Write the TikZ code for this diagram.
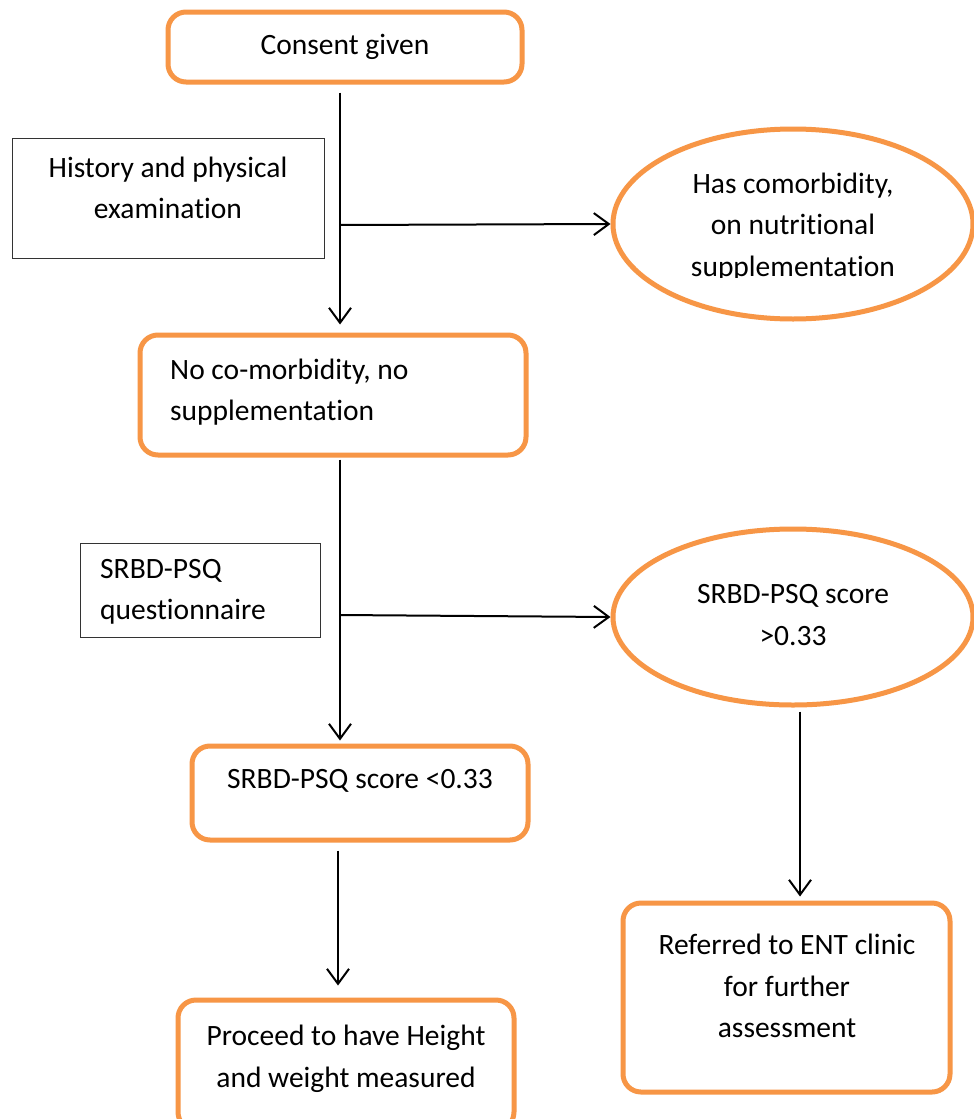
\documentclass[tikz,border=0pt]{standalone}
\usepackage{fontspec}
\setmainfont{Carlito}[Ligatures={NoCommon}]
\usetikzlibrary{shapes.geometric,arrows.meta,calc}
\definecolor{boxorange}{HTML}{F79646}
\begin{document}
\begin{tikzpicture}[x=1pt,y=-1pt,
  rbox/.style={draw=boxorange,line width=5pt,rounded corners=18pt,rectangle,inner sep=0pt},
  pbox/.style={draw=black!80,line width=1pt,rectangle,inner sep=0pt},
  obox/.style={draw=boxorange,line width=5pt,ellipse,inner sep=0pt},
  txt/.style={font=\fontsize{29.5}{41.5}\selectfont,align=center,inner sep=0pt},
  ltxt/.style={txt,align=left,anchor=west},
  arr/.style={draw=black,line width=2pt,-{Straight Barb[length=15pt,width=22pt,line width=2pt]}}]
\useasboundingbox (0,0) rectangle (974,1119);
\fill[white] (0,0) rectangle (974,1119);
% boxes
\node[rbox,minimum width=354pt,minimum height=70pt] (consent) at (345,47) {};
\node[txt] (tconsent) at (345,47) {Consent given};
\node[pbox,minimum width=312pt,minimum height=120pt] (hist) at (168,198) {};
\node[txt] (thist) at (168,188) {History and physical\\examination};
\node[obox,minimum width=360pt,minimum height=190pt] (e1) at (793,224) {};
\begin{scope}
\clip (600,120) rectangle (974,277);
\node[txt] (te1) at (793,227) {Has comorbidity,\\on nutritional\\supplementation};
\end{scope}
\node[rbox,minimum width=386pt,minimum height=120pt] (nocom) at (333,395) {};
\node[ltxt] (tnocom) at (170,392) {No co-morbidity, no\\supplementation};
\node[pbox,minimum width=240pt,minimum height=94pt] (quest) at (200,590) {};
\node[ltxt] (tquest) at (100,592) {SRBD-PSQ\\questionnaire};
\node[obox,minimum width=360pt,minimum height=176pt] (e2) at (793,617) {};
\node[txt] (te2) at (793,615) {SRBD-PSQ score\\>0.33};
\node[rbox,minimum width=336pt,minimum height=94pt] (low) at (360,793) {};
\node[txt] (tlow) at (360,781) {SRBD-PSQ score <0.33};
\node[rbox,minimum width=336pt,minimum height=130pt] (proc) at (346,1065) {};
\node[txt] (tproc) at (346,1059) {Proceed to have Height\\and weight measured};
\node[rbox,minimum width=327pt,minimum height=189pt] (ent) at (786.5,997.5) {};
\node[txt] (tent) at (787,986) {Referred to ENT clinic\\for further\\assessment};
% connectors
\coordinate (j1) at (340,225);
\coordinate (j2) at (340,615);
\coordinate (j3) at (800,0);
\coordinate (j4) at (338,0);
\draw[arr] ($(consent.south -| j1)+(0,8)$) -- ($(nocom.north -| j1)+(0,-8)$);
\draw[arr] (j1) -- (e1.west);
\draw[arr] ($(nocom.south -| j2)+(0,2)$) -- ($(low.north -| j2)+(0,-3)$);
\draw[arr] (j2) -- (e2.west);
\draw[arr] ($(e2.south -| j3)+(0,4)$) -- ($(ent.north -| j3)+(0,-4)$);
\draw[arr] ($(low.south -| j4)+(0,8)$) -- ($(proc.north -| j4)+(0,-12)$);
\end{tikzpicture}
\end{document}
